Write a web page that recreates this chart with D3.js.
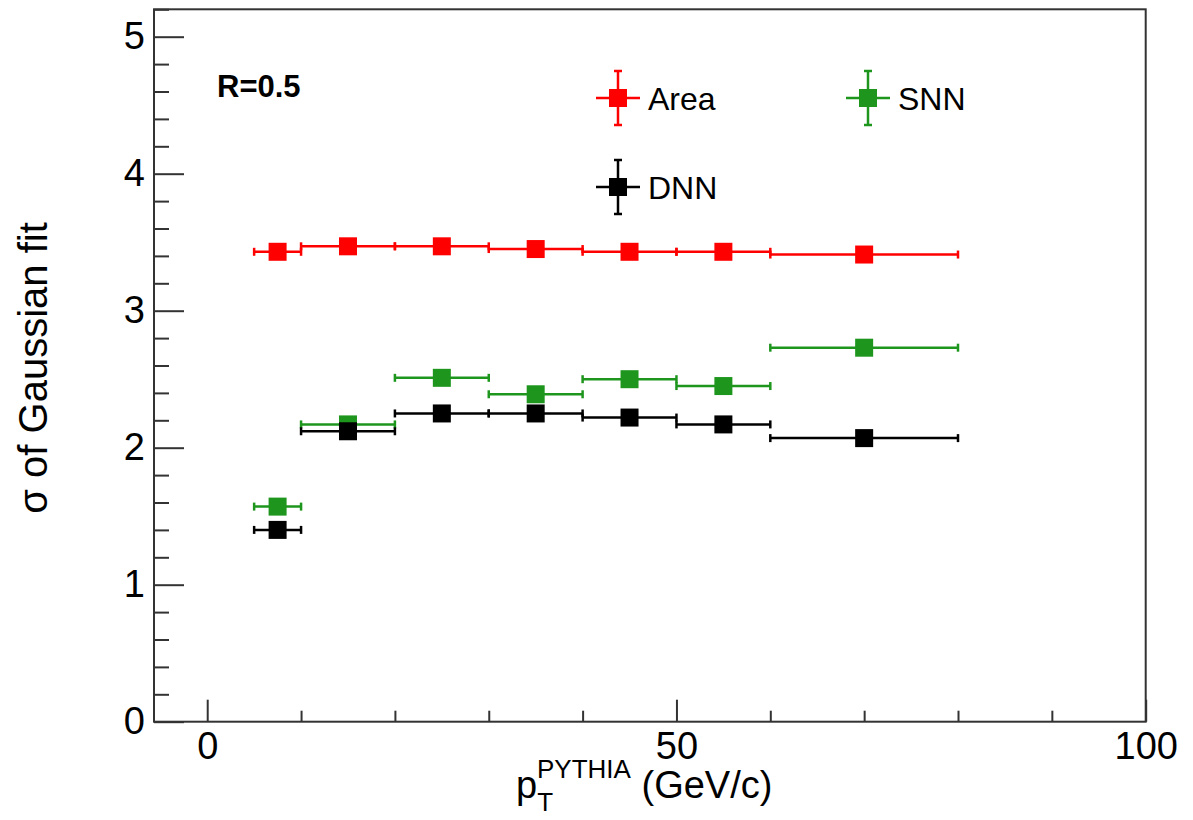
<!DOCTYPE html>
<html>
<head>
<meta charset="utf-8">
<script src="https://cdn.jsdelivr.net/npm/d3@7"></script>
<style>
  html, body { margin: 0; padding: 0; background: #fff; }
  svg { display: block; }
  text { font-family: "Liberation Sans", Arial, Helvetica, sans-serif; fill: #000; }
</style>
</head>
<body>
<svg id="chart" width="1193" height="820"></svg>
<script>
// ---- data ----
const binLow  = [5, 10, 20, 30, 40, 50, 60];
const binHigh = [10, 20, 30, 40, 50, 60, 80];
const binCenter = [7.5, 15, 25, 35, 45, 55, 70];
const areaValues = [3.43, 3.47, 3.47, 3.45, 3.43, 3.43, 3.41];
const snnValues  = [1.57, 2.17, 2.51, 2.39, 2.50, 2.45, 2.73];
const dnnValues  = [1.40, 2.12, 2.25, 2.25, 2.22, 2.17, 2.07];
const seriesNames = ["Area", "SNN", "DNN"];
const seriesColors = ["#ff0000", "#1e961e", "#000000"];
const yMajorTicks = [0, 1, 2, 3, 4, 5];
const xMajorTicks = [0, 50, 100];
const xTickLabels = ["0", "50", "100"];
const yTickLabels = ["0", "1", "2", "3", "4", "5"];

const svg = d3.select("#chart");
const frame = { left: 154, right: 1145.7, top: 9.3, bottom: 721.7 };

const x = d3.scaleLinear().domain([-5.67, 100]).range([frame.left, frame.right]);
const y = d3.scaleLinear().domain([0, 5.2]).range([frame.bottom, frame.top]);

const axisColor = "#333";

// frame
svg.append("rect")
  .attr("x", frame.left).attr("y", frame.top)
  .attr("width", frame.right - frame.left).attr("height", frame.bottom - frame.top)
  .attr("fill", "none").attr("stroke", axisColor).attr("stroke-width", 2);

// Y axis minor ticks
const yMinor = d3.range(0, 5.2001, 0.2).map(v => +v.toFixed(2)).filter(v => !yMajorTicks.includes(v));
svg.append("g").attr("transform", `translate(${frame.left},0)`)
  .call(d3.axisLeft(y).tickValues(yMinor).tickSize(-15).tickFormat(""))
  .call(g => g.select(".domain").remove())
  .call(g => g.selectAll("line").attr("stroke", axisColor).attr("stroke-width", 2));

// Y axis major
svg.append("g").attr("transform", `translate(${frame.left},0)`)
  .call(d3.axisLeft(y).tickValues(yMajorTicks).tickSize(-30).tickPadding(9)
        .tickFormat((d, i) => yTickLabels[i]))
  .call(g => g.select(".domain").remove())
  .call(g => g.selectAll("line").attr("stroke", axisColor).attr("stroke-width", 2))
  .call(g => g.selectAll("text").attr("font-size", 38).attr("fill", "#000")
        .attr("font-family", "Liberation Sans, Arial, sans-serif"));

// X axis minor
const xMinor = d3.range(10, 100, 10).filter(v => v !== 50);
svg.append("g").attr("transform", `translate(0,${frame.bottom})`)
  .call(d3.axisBottom(x).tickValues(xMinor).tickSize(-11).tickFormat(""))
  .call(g => g.select(".domain").remove())
  .call(g => g.selectAll("line").attr("stroke", axisColor).attr("stroke-width", 2));

// X axis major
svg.append("g").attr("transform", `translate(0,${frame.bottom})`)
  .call(d3.axisBottom(x).tickValues(xMajorTicks).tickSize(-22).tickPadding(10)
        .tickFormat((d, i) => xTickLabels[i]))
  .call(g => g.select(".domain").remove())
  .call(g => g.selectAll("line").attr("stroke", axisColor).attr("stroke-width", 2))
  .call(g => g.selectAll("text").attr("font-size", 38).attr("fill", "#000")
        .attr("font-family", "Liberation Sans, Arial, sans-serif"));

// axis titles
const xt = svg.append("text").attr("x", 516).attr("y", 798).attr("font-size", 38);
xt.append("tspan").text("p");
xt.append("tspan").attr("font-size", 26).attr("dy", 13).text("T");
xt.append("tspan").attr("font-size", 26).attr("dx", -16).attr("dy", -33).text("PYTHIA");
xt.append("tspan").attr("dy", 20).text(" (GeV/c)");

svg.append("text")
  .attr("transform", "translate(47,368) rotate(-90)")
  .attr("text-anchor", "middle")
  .attr("font-size", 40)
  .text("σ of Gaussian fit");

// R label
svg.append("text").attr("x", 217).attr("y", 97)
  .attr("font-size", 31).attr("font-weight", "bold").text("R=0.5");

// data series
const allSeries = [areaValues, snnValues, dnnValues];
const markerSize = 18;
const capHalf = 4;
allSeries.forEach((vals, si) => {
  const color = seriesColors[si];
  const g = svg.append("g").attr("class", "series-" + seriesNames[si]);
  vals.forEach((v, i) => {
    const yy = y(v);
    g.append("line")
      .attr("x1", x(binLow[i])).attr("x2", x(binHigh[i]))
      .attr("y1", yy).attr("y2", yy)
      .attr("stroke", color).attr("stroke-width", 2.5);
    [binLow[i], binHigh[i]].forEach(e => {
      g.append("line")
        .attr("x1", x(e)).attr("x2", x(e))
        .attr("y1", yy - capHalf).attr("y2", yy + capHalf)
        .attr("stroke", color).attr("stroke-width", 2.5);
    });
    g.append("rect")
      .attr("x", x(binCenter[i]) - markerSize / 2)
      .attr("y", yy - markerSize / 2)
      .attr("width", markerSize).attr("height", markerSize)
      .attr("fill", color);
  });
});

// legend
const legendItems = [
  { name: seriesNames[0], color: seriesColors[0], cx: 618, cy: 98 },
  { name: seriesNames[1], color: seriesColors[1], cx: 868, cy: 98 },
  { name: seriesNames[2], color: seriesColors[2], cx: 618, cy: 187 }
];
legendItems.forEach(it => {
  const g = svg.append("g");
  g.append("line").attr("x1", it.cx - 22).attr("x2", it.cx + 22)
    .attr("y1", it.cy).attr("y2", it.cy).attr("stroke", it.color).attr("stroke-width", 2.5);
  g.append("line").attr("x1", it.cx).attr("x2", it.cx)
    .attr("y1", it.cy - 27).attr("y2", it.cy + 27).attr("stroke", it.color).attr("stroke-width", 2.5);
  [-27, 27].forEach(d => {
    g.append("line").attr("x1", it.cx - 4).attr("x2", it.cx + 4)
      .attr("y1", it.cy + d).attr("y2", it.cy + d).attr("stroke", it.color).attr("stroke-width", 2.5);
  });
  g.append("rect").attr("x", it.cx - markerSize / 2).attr("y", it.cy - markerSize / 2)
    .attr("width", markerSize).attr("height", markerSize).attr("fill", it.color);
  g.append("text").attr("x", it.cx + 30).attr("y", it.cy + 12)
    .attr("font-size", 32).text(it.name);
});
</script>
</body>
</html>
